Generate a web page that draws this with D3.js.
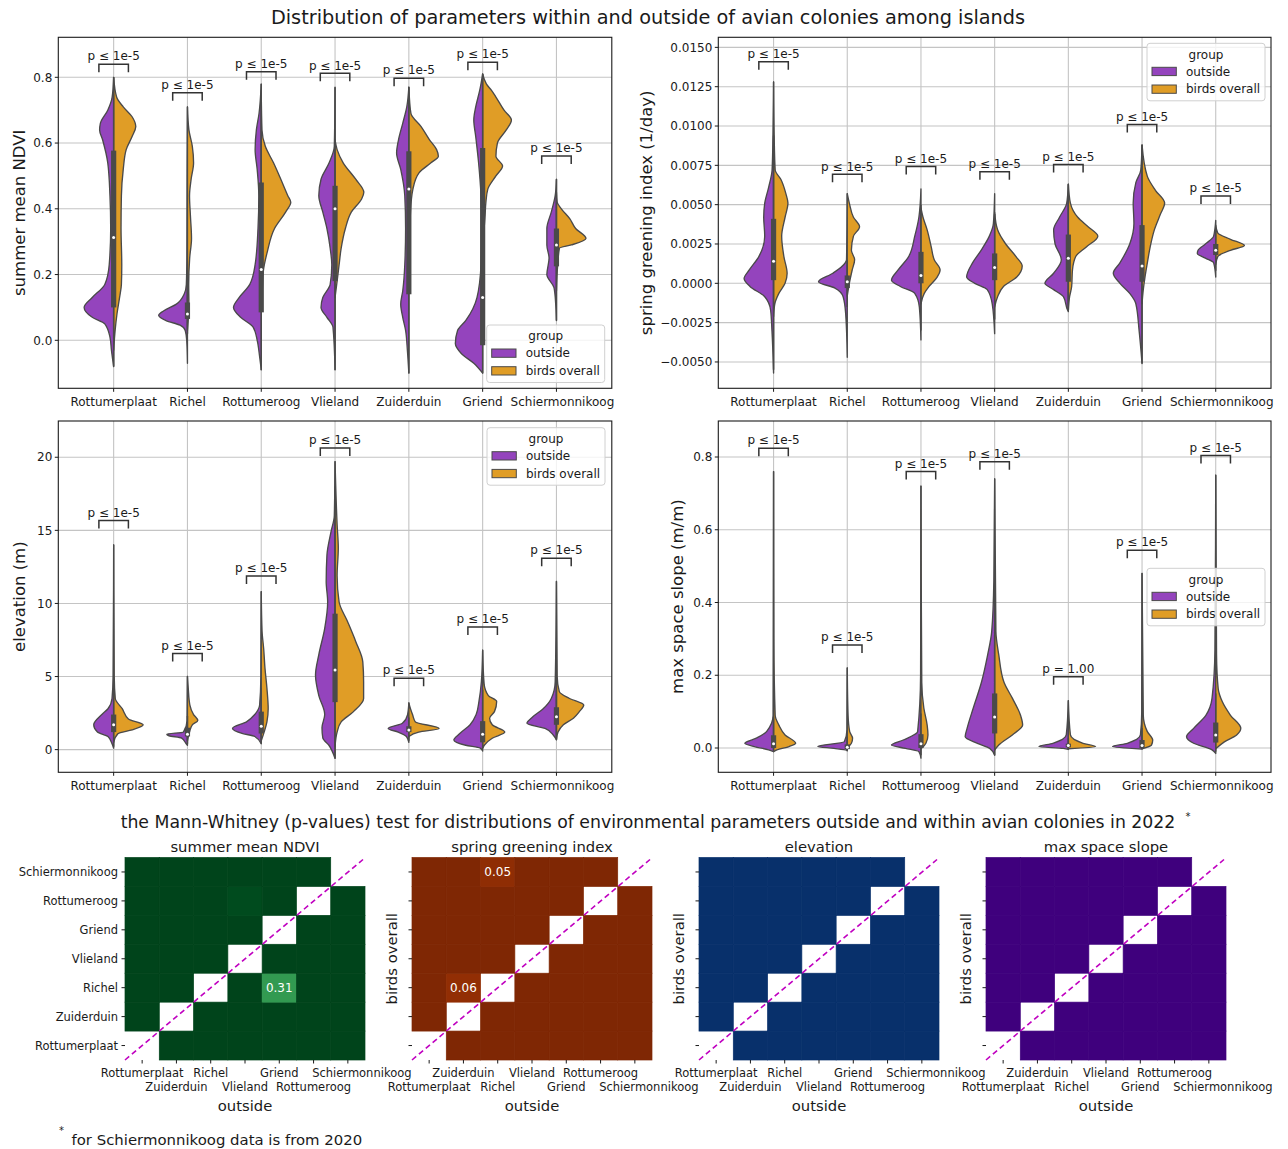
<!DOCTYPE html>
<html><head><meta charset="utf-8">
<script src="https://cdn.jsdelivr.net/npm/d3@7"></script>
<style>body{margin:0;background:#fff} text{font-family:"DejaVu Sans",sans-serif;fill:#1a1a1a}</style>
</head><body><svg id="c" width="1288" height="1149"></svg>
<script>
// ---------------- DATA ----------------
const islands = ["Rottumerplaat","Richel","Rottumeroog","Vlieland","Zuiderduin","Griend","Schiermonnikoog"];
const groups = ["outside","birds overall"];
const groupColors = ["#9444bd","#e09d26"];

// half-violin profiles: [value, half width in category units], top to bottom
const ndviOutside = [
 [[0.80,0],[0.74,0.02],[0.70,0.08],[0.66,0.18],[0.64,0.19],[0.61,0.15],[0.54,0.08],[0.44,0.05],[0.34,0.04],[0.23,0.06],[0.17,0.12],[0.13,0.29],[0.10,0.40],[0.07,0.29],[0.05,0.12],[0.01,0.05],[-0.03,0.03],[-0.08,0]],
 [[0.71,0],[0.5,0.005],[0.25,0.008],[0.17,0.015],[0.14,0.045],[0.11,0.15],[0.09,0.32],[0.076,0.39],[0.06,0.29],[0.046,0.10],[0.03,0.03],[0.0,0.01],[-0.07,0]],
 [[0.78,0],[0.69,0.03],[0.64,0.066],[0.58,0.083],[0.52,0.055],[0.44,0.033],[0.34,0.044],[0.23,0.083],[0.17,0.155],[0.13,0.30],[0.10,0.376],[0.07,0.28],[0.04,0.11],[0.0,0.055],[-0.05,0.022],[-0.09,0]],
 [[0.77,0],[0.59,0.01],[0.54,0.08],[0.49,0.19],[0.44,0.22],[0.39,0.166],[0.34,0.11],[0.28,0.066],[0.23,0.044],[0.17,0.066],[0.13,0.166],[0.10,0.19],[0.07,0.11],[0.04,0.028],[-0.09,0]],
 [[0.77,0],[0.71,0.028],[0.66,0.083],[0.61,0.14],[0.57,0.166],[0.52,0.11],[0.44,0.055],[0.34,0.044],[0.23,0.055],[0.15,0.083],[0.11,0.11],[0.07,0.083],[0.03,0.044],[-0.03,0.02],[-0.10,0]],
 [[0.81,0],[0.76,0.04],[0.71,0.094],[0.67,0.12],[0.62,0.094],[0.54,0.055],[0.44,0.022],[0.34,0.011],[0.23,0.022],[0.13,0.077],[0.06,0.23],[0.03,0.34],[-0.01,0.37],[-0.04,0.29],[-0.07,0.12],[-0.10,0]],
 [[0.49,0],[0.44,0.017],[0.39,0.07],[0.34,0.13],[0.29,0.13],[0.25,0.10],[0.20,0.13],[0.16,0.033],[0.11,0.01],[0.06,0]]
];
const ndviBirds = [
 [[0.80,0],[0.74,0.04],[0.71,0.13],[0.68,0.25],[0.65,0.30],[0.62,0.25],[0.58,0.17],[0.52,0.13],[0.44,0.105],[0.34,0.10],[0.23,0.11],[0.17,0.105],[0.13,0.08],[0.08,0.045],[0.03,0.02],[-0.03,0]],
 [[0.71,0],[0.64,0.02],[0.59,0.066],[0.54,0.083],[0.49,0.05],[0.44,0.028],[0.38,0.04],[0.31,0.055],[0.25,0.03],[0.17,0.017],[0.11,0.02],[0.06,0.01],[0.03,0]],
 [[0.76,0],[0.64,0.01],[0.59,0.055],[0.54,0.166],[0.49,0.265],[0.44,0.36],[0.42,0.40],[0.39,0.33],[0.34,0.18],[0.27,0.083],[0.21,0.028],[0.13,0.01],[0.10,0]],
 [[0.61,0],[0.58,0.028],[0.54,0.11],[0.49,0.28],[0.45,0.39],[0.43,0.36],[0.39,0.22],[0.34,0.14],[0.28,0.083],[0.23,0.055],[0.18,0.028],[0.13,0]],
 [[0.77,0],[0.69,0.028],[0.65,0.166],[0.61,0.28],[0.58,0.376],[0.56,0.40],[0.54,0.30],[0.51,0.14],[0.46,0.055],[0.39,0.022],[0.28,0.01],[0.18,0]],
 [[0.81,0],[0.78,0.05],[0.76,0.12],[0.74,0.18],[0.70,0.29],[0.67,0.39],[0.64,0.32],[0.60,0.20],[0.56,0.18],[0.53,0.27],[0.50,0.18],[0.46,0.07],[0.42,0.044],[0.38,0.033],[0.31,0.011],[0.23,0]],
 [[0.45,0],[0.42,0.01],[0.40,0.066],[0.37,0.18],[0.34,0.26],[0.31,0.40],[0.29,0.20],[0.28,0.04],[0.23,0.017],[0.15,0]]
];
// [whisker low, q1, median, q3, whisker high]
const ndviBox = [[-0.08,0.10,0.313,0.577,0.80],[0.02,0.065,0.08,0.115,0.17],[-0.09,0.085,0.215,0.48,0.78],[-0.09,0.18,0.40,0.47,0.77],[-0.10,0.14,0.46,0.575,0.77],[-0.10,-0.015,0.13,0.585,0.81],[0.06,0.225,0.29,0.34,0.49]];
const ndviBracket = [0.84,0.753,0.817,0.812,0.797,0.846,0.561];
const ndviP = ["p ≤ 1e-5","p ≤ 1e-5","p ≤ 1e-5","p ≤ 1e-5","p ≤ 1e-5","p ≤ 1e-5","p ≤ 1e-5"];

const springOutside = [
 [[0.0128,0],[0.0094,0.008],[0.0072,0.02],[0.0061,0.067],[0.0051,0.12],[0.0042,0.134],[0.003,0.12],[0.0017,0.2],[0.00085,0.33],[0.0003,0.40],[-0.0002,0.32],[-0.00085,0.12],[-0.0017,0.04],[-0.003,0.022],[-0.0057,0]],
 [[0.0057,0],[0.0015,0.01],[0.0013,0.028],[0.00064,0.195],[0.0001,0.39],[-0.0003,0.167],[-0.00085,0.056],[-0.0019,0.022],[-0.0047,0]],
 [[0.006,0],[0.0042,0.028],[0.003,0.084],[0.0017,0.167],[0.00085,0.31],[0.0002,0.40],[-0.0002,0.28],[-0.00064,0.084],[-0.0015,0.022],[-0.0036,0]],
 [[0.0057,0],[0.0038,0.017],[0.003,0.072],[0.0021,0.184],[0.0013,0.30],[0.0004,0.38],[0.0,0.27],[-0.0004,0.10],[-0.0013,0.033],[-0.0032,0]],
 [[0.0063,0],[0.0051,0.022],[0.0042,0.12],[0.0034,0.20],[0.0025,0.18],[0.0015,0.095],[0.00064,0.20],[0.0,0.318],[-0.0004,0.20],[-0.00085,0.067],[-0.0017,0.011],[-0.0018,0]],
 [[0.0088,0],[0.0072,0.017],[0.0064,0.084],[0.0051,0.12],[0.0038,0.11],[0.0025,0.167],[0.0013,0.30],[0.00064,0.39],[0.0,0.30],[-0.00064,0.167],[-0.0013,0.084],[-0.003,0.04],[-0.0051,0]],
 [[0.004,0],[0.003,0.028],[0.0025,0.14],[0.0021,0.24],[0.0019,0.25],[0.0016,0.14],[0.0013,0.028],[0.0004,0]]
];
const springBirds = [
 [[0.0128,0],[0.0094,0.008],[0.0072,0.022],[0.0066,0.10],[0.0057,0.167],[0.0051,0.195],[0.0042,0.156],[0.003,0.11],[0.0017,0.14],[0.00064,0.184],[0.0,0.156],[-0.00064,0.072],[-0.0013,0.017],[-0.0021,0]],
 [[0.0057,0],[0.0051,0.028],[0.0042,0.084],[0.0036,0.167],[0.003,0.084],[0.0021,0.056],[0.0015,0.10],[0.00085,0.067],[0.0,0.028],[-0.0008,0]],
 [[0.0048,0],[0.0042,0.028],[0.0034,0.084],[0.0023,0.14],[0.0015,0.18],[0.00085,0.26],[0.0004,0.22],[-0.0002,0.11],[-0.00064,0.045],[-0.0013,0]],
 [[0.0045,0],[0.0034,0.04],[0.0025,0.15],[0.0017,0.29],[0.0011,0.374],[0.0004,0.30],[-0.0002,0.12],[-0.00085,0.04],[-0.0015,0]],
 [[0.0063,0],[0.0051,0.028],[0.0042,0.128],[0.0036,0.268],[0.003,0.40],[0.0023,0.24],[0.0017,0.10],[0.00085,0.056],[-0.0002,0.045],[-0.00085,0.017],[-0.0017,0]],
 [[0.0088,0],[0.0068,0.072],[0.0059,0.184],[0.0051,0.307],[0.0044,0.25],[0.0034,0.167],[0.0023,0.11],[0.0013,0.072],[0.0004,0.04],[-0.0004,0.017],[-0.0013,0]],
 [[0.0037,0],[0.0032,0.028],[0.0028,0.20],[0.0024,0.39],[0.0021,0.20],[0.0017,0.028],[0.0012,0]]
];
const springBox = [[-0.0055,0.0002,0.0014,0.0041,0.0094],[-0.0015,-0.0003,0.0001,0.0005,0.0015],[-0.0030,0.0,0.0005,0.002,0.005],[-0.0023,0.0002,0.001,0.0019,0.0044],[-0.0017,0.0001,0.0016,0.0031,0.0063],[-0.0051,0.0001,0.0011,0.0037,0.0088],[0.0008,0.0018,0.0021,0.0025,0.0035]];
const springBracket = [0.01409,0.00693,0.00742,0.0071,0.00756,0.0101,0.00555];
const springP = ["p ≤ 1e-5","p ≤ 1e-5","p ≤ 1e-5","p ≤ 1e-5","p ≤ 1e-5","p ≤ 1e-5","p ≤ 1e-5"];

const elevOutside = [
 [[14.0,0],[5,0.008],[3.5,0.022],[2.8,0.077],[2.4,0.16],[1.7,0.27],[1.2,0.22],[0.9,0.077],[0.4,0.022],[0.1,0]],
 [[5.0,0],[2,0.005],[1.2,0.055],[1.05,0.28],[0.95,0.25],[0.8,0.083],[0.4,0.017],[0.3,0]],
 [[10.8,0],[5,0.005],[3.05,0.022],[2.4,0.088],[1.9,0.20],[1.45,0.39],[1.1,0.25],[0.9,0.088],[0.4,0]],
 [[19.7,0],[16,0.01],[14.9,0.055],[13.3,0.11],[11.5,0.12],[10.1,0.10],[8.3,0.14],[6.5,0.22],[5.1,0.265],[3.7,0.22],[2.4,0.14],[1.5,0.177],[0.8,0.166],[0.3,0.083],[-0.6,0]],
 [[3.2,0],[2.4,0.017],[1.8,0.088],[1.45,0.28],[1.2,0.144],[0.9,0.033],[0.5,0]],
 [[6.8,0],[4.65,0.017],[3.3,0.05],[2.4,0.088],[1.7,0.17],[1.1,0.31],[0.66,0.39],[0.3,0.23],[0.1,0.033],[-0.1,0]],
 [[11.5,0],[4.65,0.017],[3.5,0.07],[2.8,0.18],[2.25,0.32],[1.8,0.40],[1.45,0.155],[1.0,0.044],[0.66,0]]
];
const elevBirds = [
 [[14.0,0],[5,0.008],[3.5,0.022],[2.8,0.116],[2.1,0.20],[1.7,0.40],[1.35,0.25],[1.1,0.06],[0.5,0]],
 [[5.0,0],[4.2,0.011],[3.05,0.033],[2.4,0.083],[2.0,0.14],[1.7,0.066],[1.2,0.028],[0.6,0]],
 [[10.8,0],[8.1,0.011],[6.9,0.033],[5.6,0.05],[4.2,0.077],[2.8,0.094],[1.9,0.077],[1.2,0.039],[0.6,0]],
 [[19.7,0],[15.4,0.028],[13.8,0.044],[11.9,0.028],[10.1,0.055],[8.8,0.166],[7.4,0.28],[6.0,0.376],[4.65,0.387],[3.5,0.387],[2.6,0.25],[1.9,0.083],[1.2,0.028],[0.2,0]],
 [[3.2,0],[2.8,0.022],[2.4,0.05],[1.9,0.088],[1.45,0.41],[1.2,0.133],[0.9,0]],
 [[6.8,0],[4.5,0.02],[3.7,0.077],[3.3,0.19],[2.6,0.16],[2.15,0.094],[1.7,0.13],[1.2,0.30],[0.78,0.13],[0.3,0.022],[0.1,0]],
 [[11.5,0],[5,0.01],[3.97,0.039],[3.5,0.177],[3.05,0.37],[2.6,0.31],[2.15,0.23],[1.7,0.094],[1.2,0.022],[0.7,0]]
];
const elevBox = [[0.2,1.2,1.7,2.4,4.2],[0.4,0.9,1.05,1.5,2.3],[0.4,1.1,1.6,2.6,4.2],[-0.6,3.25,5.45,9.3,18],[0.6,1.2,1.35,1.6,2.2],[0.1,0.5,1.05,1.95,4.1],[0.7,1.7,2.25,2.9,4.7]];
const elevBracket = [15.67,6.57,11.88,20.64,4.88,8.39,13.09];
const elevP = ["p ≤ 1e-5","p ≤ 1e-5","p ≤ 1e-5","p ≤ 1e-5","p ≤ 1e-5","p ≤ 1e-5","p ≤ 1e-5"];

const slopeOutside = [
 [[0.76,0],[0.3,0.004],[0.09,0.006],[0.045,0.095],[0.027,0.234],[0.013,0.39],[0.004,0.26],[-0.005,0.067],[-0.01,0]],
 [[0.22,0],[0.05,0.004],[0.017,0.04],[0.004,0.40],[-0.001,0.18],[-0.006,0.011],[-0.008,0]],
 [[0.72,0],[0.2,0.005],[0.045,0.045],[0.022,0.24],[0.008,0.40],[-0.001,0.21],[-0.01,0.028],[-0.028,0]],
 [[0.74,0],[0.46,0.011],[0.32,0.04],[0.256,0.095],[0.18,0.18],[0.11,0.29],[0.054,0.374],[0.031,0.40],[0.013,0.234],[-0.001,0.067],[-0.02,0]],
 [[0.13,0],[0.036,0.028],[0.013,0.21],[0.004,0.40],[-0.001,0.07],[-0.004,0]],
 [[0.48,0],[0.1,0.004],[0.036,0.022],[0.013,0.20],[0.004,0.40],[-0.003,0]],
 [[0.75,0],[0.27,0.011],[0.137,0.05],[0.09,0.134],[0.054,0.30],[0.031,0.396],[0.013,0.30],[-0.005,0.05],[-0.015,0]]
];
const slopeBirds = [
 [[0.76,0],[0.3,0.004],[0.09,0.022],[0.063,0.072],[0.036,0.156],[0.013,0.30],[0.004,0.21],[-0.005,0.045],[-0.01,0]],
 [[0.22,0],[0.09,0.011],[0.045,0.033],[0.027,0.072],[0.013,0.056],[0.004,0.022],[-0.004,0]],
 [[0.72,0],[0.18,0.011],[0.11,0.039],[0.063,0.084],[0.036,0.095],[0.013,0.067],[-0.002,0]],
 [[0.74,0],[0.32,0.017],[0.256,0.056],[0.18,0.128],[0.137,0.24],[0.09,0.351],[0.063,0.38],[0.036,0.24],[0.008,0.056],[-0.006,0]],
 [[0.13,0],[0.036,0.028],[0.013,0.20],[0.004,0.37],[-0.002,0]],
 [[0.48,0],[0.09,0.017],[0.045,0.072],[0.022,0.145],[0.008,0.128],[-0.002,0]],
 [[0.75,0],[0.256,0.011],[0.164,0.033],[0.127,0.09],[0.09,0.20],[0.054,0.34],[0.036,0.284],[0.017,0.117],[-0.002,0]]
];
const slopeBox = [[-0.005,0.0,0.012,0.035,0.085],[-0.006,-0.003,0.002,0.01,0.03],[-0.02,0.0,0.012,0.038,0.095],[-0.02,0.04,0.085,0.15,0.31],[-0.004,0.002,0.007,0.012,0.027],[-0.003,0.0,0.007,0.022,0.055],[-0.01,0.015,0.036,0.07,0.15]];
const slopeBracket = [0.824,0.283,0.76,0.787,0.196,0.544,0.804];
const slopeP = ["p ≤ 1e-5","p ≤ 1e-5","p ≤ 1e-5","p ≤ 1e-5","p = 1.00","p ≤ 1e-5","p ≤ 1e-5"];

const ndviTicks = [0.0,0.2,0.4,0.6,0.8];
const springTicks = [-0.005,-0.0025,0,0.0025,0.005,0.0075,0.01,0.0125,0.015];
const elevTicks = [0,5,10,15,20];
const slopeTicks = [0.0,0.2,0.4,0.6,0.8];

// heatmaps (rows = birds overall, bottom to top; cols = outside, left to right)
const hmOrder = ["Rottumerplaat","Zuiderduin","Richel","Vlieland","Griend","Rottumeroog","Schiermonnikoog"];
const hmTitles = ["summer mean NDVI","spring greening index","elevation","max space slope"];
const pNdvi = [
 [null,0,0,0,0,0,0],
 [0,null,0,0,0,0,0],
 [0,0,null,0,0.31,0,0],
 [0,0,0,null,0,0,0],
 [0,0,0,0,null,0,0],
 [0,0,0,0.02,0,null,0],
 [0,0,0,0,0,0,null]];
const pSpring = [
 [null,0,0,0,0,0,0],
 [0,null,0,0,0,0,0],
 [0,0.06,null,0,0,0,0],
 [0,0,0,null,0,0,0],
 [0,0,0,0,null,0,0],
 [0,0,0,0,0,null,0],
 [0,0,0.05,0,0,0,null]];
const pElev = [
 [null,0,0,0,0,0,0],
 [0,null,0,0,0,0,0],
 [0,0,null,0,0,0,0],
 [0,0,0,null,0,0,0],
 [0,0,0,0,null,0,0],
 [0,0,0,0,0,null,0],
 [0,0,0,0,0,0,null]];
const pSlope = [
 [null,0,0,0,0,0,0],
 [0,null,0,0,0,0,0],
 [0,0,null,0,0,0,0],
 [0,0,0,null,0,0,0],
 [0,0,0,0,null,0,0],
 [0,0,0,0,0,null,0],
 [0,0,0,0,0,0,null]];

// ---------------- DRAW ----------------
const svg = d3.select("#c");
svg.append("rect").attr("width",1288).attr("height",1149).attr("fill","#fff");
const GRAY = "#4a4a4a";

svg.append("text").attr("x",648).attr("y",24).attr("text-anchor","middle")
  .style("font-size","19.3px").text("Distribution of parameters within and outside of avian colonies among islands");

function violinPanel(c){
  const x = d3.scaleLinear().domain([-0.75,6.75]).range([c.x0,c.x1]);
  const y = d3.scaleLinear().domain(c.domain).range([c.y1,c.y0]);
  const unit = x(1)-x(0);
  const g = svg.append("g");
  const clipId = "clip"+c.id;
  g.append("clipPath").attr("id",clipId).append("rect").attr("x",c.x0).attr("y",c.y0).attr("width",c.x1-c.x0).attr("height",c.y1-c.y0);
  g.selectAll(".gy").data(c.ticks).join("line").attr("x1",c.x0).attr("x2",c.x1)
    .attr("y1",d=>y(d)).attr("y2",d=>y(d)).attr("stroke","#c4c4c4").attr("stroke-width",1.1);
  g.selectAll(".gx").data(islands).join("line").attr("y1",c.y0).attr("y2",c.y1)
    .attr("x1",(d,i)=>x(i)).attr("x2",(d,i)=>x(i)).attr("stroke","#c4c4c4").attr("stroke-width",1.1);
  const vg = g.append("g").attr("clip-path","url(#"+clipId+")");
  islands.forEach((isl,i)=>{
    const cx = x(i);
    const aL = d3.area().curve(d3.curveMonotoneY).y(d=>y(d[0])).x0(cx).x1(d=>cx-d[1]*unit);
    const aR = d3.area().curve(d3.curveMonotoneY).y(d=>y(d[0])).x0(cx).x1(d=>cx+d[1]*unit);
    vg.append("path").attr("d",aL(c.out[i])).attr("fill",groupColors[0]).attr("stroke",GRAY).attr("stroke-width",1.35).attr("stroke-linejoin","round");
    vg.append("path").attr("d",aR(c.bird[i])).attr("fill",groupColors[1]).attr("stroke",GRAY).attr("stroke-width",1.35).attr("stroke-linejoin","round");
    const b = c.box[i];
    vg.append("line").attr("x1",cx).attr("x2",cx).attr("y1",y(b[0])).attr("y2",y(b[4])).attr("stroke",GRAY).attr("stroke-width",1.5);
    vg.append("rect").attr("x",cx-2.6).attr("width",5.2).attr("y",y(b[3])).attr("height",y(b[1])-y(b[3])).attr("fill",GRAY);
    vg.append("circle").attr("cx",cx).attr("cy",y(b[2])).attr("r",1.5).attr("fill","#fff");
    const by = y(c.br[i]);
    const hw = 0.2*unit;
    g.append("path").attr("d",`M${cx-hw},${by+8}L${cx-hw},${by}L${cx+hw},${by}L${cx+hw},${by+8}`)
      .attr("fill","none").attr("stroke","#333").attr("stroke-width",1.5);
    g.append("text").attr("x",cx).attr("y",by-3.8).attr("text-anchor","middle").style("font-size","12px").text(c.pt[i]);
  });
  g.append("rect").attr("x",c.x0).attr("y",c.y0).attr("width",c.x1-c.x0).attr("height",c.y1-c.y0)
    .attr("fill","none").attr("stroke","#1a1a1a").attr("stroke-width",1.1);
  c.ticks.forEach(t=>{
    g.append("line").attr("x1",c.x0-3.5).attr("x2",c.x0).attr("y1",y(t)).attr("y2",y(t)).attr("stroke","#1a1a1a");
    g.append("text").attr("x",c.x0-6).attr("y",y(t)).attr("dy","0.35em").attr("text-anchor","end").style("font-size","12px").text(c.fmt(t));
  });
  islands.forEach((isl,i)=>{
    g.append("line").attr("x1",x(i)).attr("x2",x(i)).attr("y1",c.y1).attr("y2",c.y1+3.5).attr("stroke","#1a1a1a");
    g.append("text").attr("x",x(i)).attr("dx",i===6?6:0).attr("y",c.y1+17.5).attr("text-anchor","middle").style("font-size","12px").text(isl);
  });
  g.append("text").attr("transform",`translate(${c.labelX},${(c.y0+c.y1)/2}) rotate(-90)`).attr("text-anchor","middle")
    .attr("dy","0.35em").style("font-size","16.5px").text(c.label);
  const [lx,ly] = c.legend;
  const lg = g.append("g");
  lg.append("rect").attr("x",lx).attr("y",ly).attr("width",118).attr("height",57.5).attr("rx",3)
    .attr("fill","#fff").attr("fill-opacity",0.8).attr("stroke","#d0d0d0");
  lg.append("text").attr("x",lx+59).attr("y",ly+11).attr("dy","0.35em").attr("text-anchor","middle").style("font-size","12px").text("group");
  groups.forEach((gn,k)=>{
    lg.append("rect").attr("x",lx+5).attr("y",ly+24+k*17.7).attr("width",24.3).attr("height",8.3)
      .attr("fill",groupColors[k]).attr("stroke",GRAY).attr("stroke-width",1);
    lg.append("text").attr("x",lx+39).attr("y",ly+28.2+k*17.7).attr("dy","0.35em").style("font-size","12px").text(gn);
  });
}

violinPanel({id:1,x0:58.3,x1:611.8,y0:37.3,y1:388.3,domain:[-0.146,0.9217],ticks:ndviTicks,fmt:d3.format(".1f"),
  label:"summer mean NDVI",labelX:19,out:ndviOutside,bird:ndviBirds,box:ndviBox,br:ndviBracket,pt:ndviP,legend:[486.7,325]});
violinPanel({id:2,x0:718.3,x1:1271,y0:37.3,y1:388.3,domain:[-0.006674,0.01564],ticks:springTicks,fmt:d3.format(".4f"),
  label:"spring greening index (1/day)",labelX:646,out:springOutside,bird:springBirds,box:springBox,br:springBracket,pt:springP,legend:[1147,43.3]});
violinPanel({id:3,x0:58.3,x1:611.8,y0:421,y1:772.3,domain:[-1.55,22.48],ticks:elevTicks,fmt:d3.format("d"),
  label:"elevation (m)",labelX:19,out:elevOutside,bird:elevBirds,box:elevBox,br:elevBracket,pt:elevP,legend:[487,427.7]});
violinPanel({id:4,x0:718.3,x1:1271,y0:421,y1:772.3,domain:[-0.0668,0.899],ticks:slopeTicks,fmt:d3.format(".1f"),
  label:"max space slope (m/m)",labelX:677,out:slopeOutside,bird:slopeBirds,box:slopeBox,br:slopeBracket,pt:slopeP,legend:[1147,568.3]});

// ---- heatmaps ----
svg.append("text").attr("x",648).attr("y",827.5).attr("text-anchor","middle").style("font-size","17.3px")
  .text("the Mann-Whitney (p-values) test for distributions of environmental parameters outside and within avian colonies in 2022");
svg.append("text").attr("x",1188).attr("y",820).attr("text-anchor","middle").style("font-size","10px").text("*");

function heatmap(c){
  const HX0 = c.x0, HY0 = 857.5, HW = 240, HH = 202.5;
  const x = d3.scaleBand().domain(hmOrder).range([HX0,HX0+HW]);
  const y = d3.scaleBand().domain(hmOrder).range([HY0+HH,HY0]);
  const col = d3.scaleSequential(c.interp).domain([1,0]);
  const g = svg.append("g");
  c.data.forEach((row,i)=>row.forEach((v,j)=>{
    if(v===null) return;
    g.append("rect").attr("x",x(hmOrder[j])).attr("y",y(hmOrder[i])).attr("width",x.bandwidth()).attr("height",y.bandwidth())
      .attr("fill",col(v)).attr("stroke",col(v)).attr("stroke-width",0.7);
  }));
  c.data.forEach((row,i)=>row.forEach((v,j)=>{
    if(v!==null && v>=0.05) g.append("text").attr("x",x(hmOrder[j])+x.bandwidth()/2).attr("y",y(hmOrder[i])+y.bandwidth()/2)
      .attr("dy","0.35em").attr("text-anchor","middle").style("font-size","12px").style("fill","#fff").text(d3.format(".2f")(v));
  }));
  g.append("line").attr("x1",HX0).attr("y1",HY0+HH).attr("x2",HX0+HW-2).attr("y2",HY0+2)
    .attr("stroke","#c000c0").attr("stroke-width",1.6).attr("stroke-dasharray","5.5,3.5");
  g.append("text").attr("x",HX0+HW/2).attr("y",HY0-11).attr("dy","0.35em").attr("text-anchor","middle").style("font-size","14.8px").text(c.title);
  hmOrder.forEach((n,k)=>{
    const yc = y(n)+y.bandwidth()/2;
    g.append("line").attr("x1",HX0-3.5).attr("x2",HX0).attr("y1",yc).attr("y2",yc).attr("stroke","#1a1a1a");
    if(c.ylabels) g.append("text").attr("x",HX0-7).attr("y",yc).attr("dy","0.35em").attr("text-anchor","end").style("font-size","11.5px").text(n);
    const xc = x(n)+x.bandwidth()/2;
    g.append("line").attr("x1",xc).attr("x2",xc).attr("y1",HY0+HH).attr("y2",HY0+HH+3.5).attr("stroke","#1a1a1a");
    const row2 = (k + c.stagger)%2===1;
    g.append("text").attr("x",xc).attr("dx",k===6?14:0).attr("y",HY0+HH+(row2?31:17)).attr("text-anchor","middle").style("font-size","11.5px").text(n);
  });
  g.append("text").attr("x",HX0+HW/2).attr("y",1110.5).attr("text-anchor","middle").style("font-size","14.8px").text("outside");
  if(!c.ylabels) g.append("text").attr("transform",`translate(${HX0-20},${HY0+HH/2}) rotate(-90)`).attr("dy","0.35em")
    .attr("text-anchor","middle").style("font-size","14.8px").text("birds overall");
}
heatmap({x0:125,title:hmTitles[0],data:pNdvi,interp:d3.interpolateGreens,ylabels:true,stagger:0});
heatmap({x0:412,title:hmTitles[1],data:pSpring,interp:d3.interpolateOranges,ylabels:false,stagger:1});
heatmap({x0:699,title:hmTitles[2],data:pElev,interp:d3.interpolateBlues,ylabels:false,stagger:0});
heatmap({x0:986,title:hmTitles[3],data:pSlope,interp:d3.interpolatePurples,ylabels:false,stagger:1});

svg.append("text").attr("x",61.5).attr("y",1134).attr("text-anchor","middle").style("font-size","10px").text("*");
svg.append("text").attr("x",71.5).attr("y",1144.5).style("font-size","14.9px").text("for Schiermonnikoog data is from 2020");
</script></body></html>
